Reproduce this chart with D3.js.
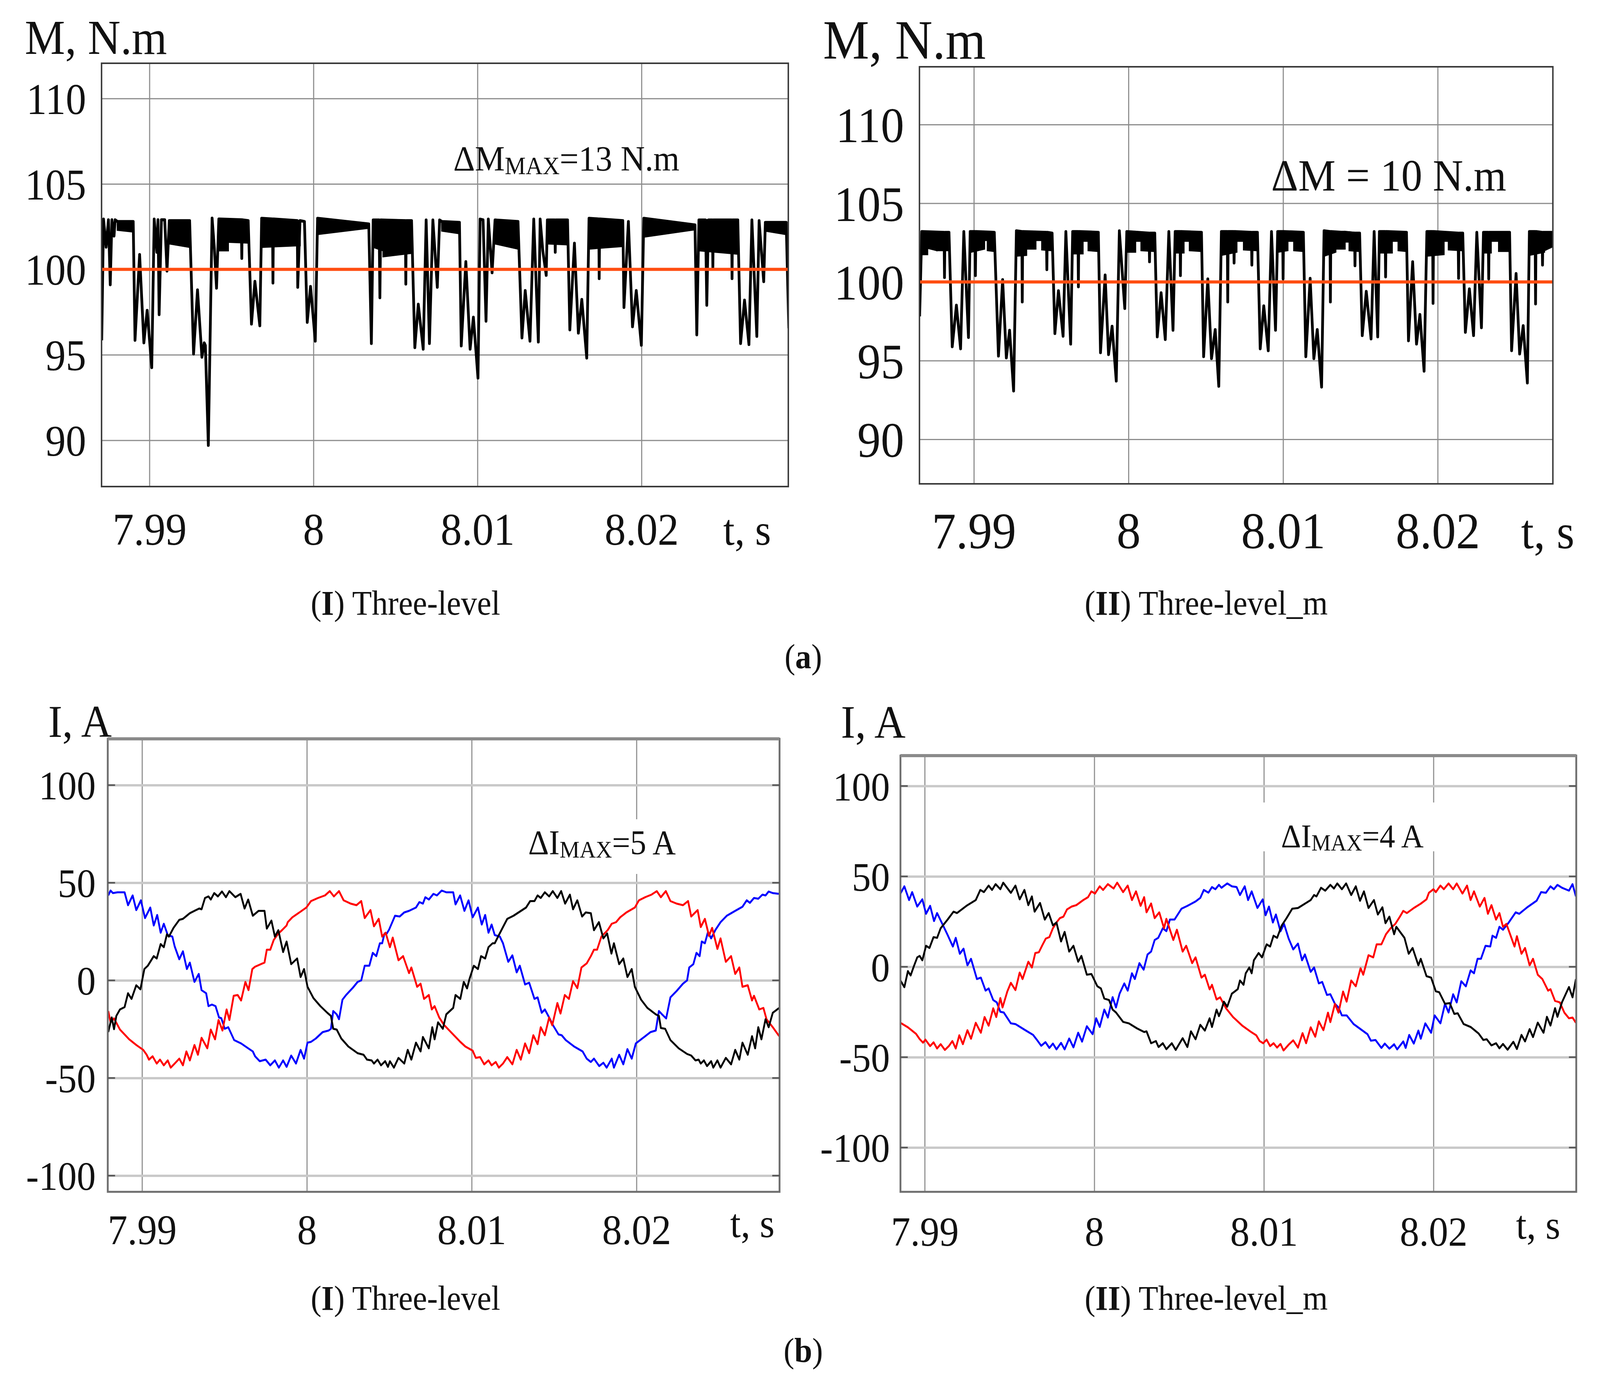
<!DOCTYPE html>
<html>
<head>
<meta charset="utf-8">
<script src="https://cdn.jsdelivr.net/npm/d3@7/dist/d3.min.js"></script>
<style>
  html, body { margin: 0; padding: 0; background: #fff; overflow: hidden; }
  svg { display: block; }
  text { font-family: "Liberation Serif", "Times New Roman", serif; }
</style>
</head>
<body>
<script>
// ---- data ----
const timeTicks = [7.99, 8, 8.01, 8.02];
const timeTickLabels = ["7.99", "8", "8.01", "8.02"];
const torqueTicks = [90, 95, 100, 105, 110];
const torqueTickLabels = ["90", "95", "100", "105", "110"];
const currentTicks = [-100, -50, 0, 50, 100];
const currentTickLabels = ["-100", "-50", "0", "50", "100"];
const torqueRef = 100;

// torque, three-level: [t, M] vertices of the trace
const mLineI = [[7.98709,95.85],[7.98720,102.94],[7.98736,101.3],[7.98750,102.9],[7.98761,99.1],[7.98771,102.9],[7.98784,101.95],[7.98791,102.9],[7.98805,102.8],[7.98901,102.8],[7.98912,95.85],[7.98940,100.87],[7.98966,95.7],[7.98986,97.6],[7.99014,94.25],[7.99029,102.94],[7.99045,101.0],[7.99052,102.9],[7.99059,97.35],[7.99073,102.9],[7.99093,102.9],[7.99107,99.9],[7.99121,102.85],[7.99245,102.85],[7.99269,95.05],[7.99293,98.8],[7.99320,94.86],[7.99334,95.7],[7.99341,95.55],[7.99359,89.7],[7.99382,103.0],[7.99396,101.2],[7.99409,98.9],[7.99423,102.95],[7.99560,102.9],[7.99563,100.64],[7.99566,102.9],[7.99602,102.85],[7.99622,96.8],[7.99643,99.3],[7.99673,96.7],[7.99684,102.99],[7.99750,102.95],[7.99753,99.2],[7.99756,102.95],[7.99901,102.85],[7.99904,98.95],[7.99918,102.85],[7.99945,102.8],[7.99962,96.9],[7.99982,99.0],[8.00011,95.8],[8.00025,102.99],[8.00337,102.66],[8.00353,95.66],[8.00364,102.89],[8.00400,102.89],[8.00405,98.34],[8.00410,102.89],[8.00560,102.85],[8.00563,99.14],[8.00566,102.85],[8.00598,102.85],[8.00618,95.42],[8.00639,97.96],[8.00669,95.33],[8.00687,102.89],[8.00707,95.66],[8.00728,102.89],[8.00755,98.95],[8.00769,102.89],[8.00783,102.8],[8.00890,102.75],[8.00901,95.52],[8.00929,100.45],[8.00955,95.33],[8.00975,97.2],[8.01003,93.64],[8.01016,102.94],[8.01034,102.9],[8.01052,96.97],[8.01066,102.94],[8.01089,99.8],[8.01107,102.89],[8.01247,102.8],[8.01271,95.99],[8.01291,98.76],[8.01320,95.8],[8.01343,102.94],[8.01371,95.75],[8.01382,102.94],[8.01398,101.1],[8.01419,99.65],[8.01426,102.89],[8.01471,102.89],[8.01474,101.0],[8.01477,102.89],[8.01549,102.89],[8.01563,96.46],[8.01591,101.53],[8.01615,96.27],[8.01636,98.24],[8.01666,94.81],[8.01680,102.99],[8.01739,102.95],[8.01742,99.46],[8.01745,102.95],[8.01886,102.85],[8.01893,97.77],[8.01920,102.8],[8.01945,96.64],[8.01968,98.76],[8.01999,95.56],[8.02014,102.99],[8.02326,102.6],[8.02337,96.17],[8.02350,102.89],[8.02390,102.89],[8.02398,97.9],[8.02408,102.89],[8.02432,102.89],[8.02435,100.1],[8.02438,102.89],[8.02549,102.89],[8.02552,99.46],[8.02555,102.89],[8.02587,102.89],[8.02604,95.66],[8.02628,98.2],[8.02655,95.6],[8.02673,102.89],[8.02703,96.08],[8.02717,102.85],[8.02745,99.28],[8.02755,102.75],[8.02882,102.75],[8.02898,96.55]];
// dense switching band: [t0, t1, top0, top1, bottom0, bottom1]
const mBandI = [[7.98805,7.98901,102.8,102.8,102.3,102.2],[7.99121,7.99245,102.85,102.85,101.5,101.3],[7.99423,7.99480,102.95,102.9,101.1,101.1],[7.99480,7.99602,102.9,102.85,101.6,101.55],[7.99684,7.99918,102.95,102.85,101.3,101.4],[8.00025,8.00337,102.99,102.66,102.05,102.42],[8.00364,8.00425,102.89,102.89,101.3,101.1],[8.00425,8.00598,102.89,102.85,100.75,100.95],[8.00783,8.00890,102.8,102.75,102.25,102.1],[8.01107,8.01247,102.89,102.8,101.5,101.2],[8.01426,8.01549,102.89,102.89,101.5,101.45],[8.01680,8.01886,102.99,102.85,101.2,101.35],[8.02014,8.02326,102.99,102.6,101.9,102.33],[8.02350,8.02587,102.89,102.89,101.1,100.9],[8.02755,8.02882,102.75,102.75,102.25,102.05]];

// torque, three-level_m
const mLineII = [[7.98649,97.81],[7.98663,103.2],[7.98807,103.15],[7.98810,100.28],[7.98813,103.15],[7.98839,103.15],[7.98860,95.88],[7.98887,98.52],[7.98914,95.75],[7.98935,103.2],[7.98965,96.47],[7.98976,103.2],[7.99007,103.2],[7.99010,100.4],[7.99013,103.2],[7.99132,103.15],[7.99159,95.29],[7.99186,100.15],[7.99210,95.17],[7.99231,96.93],[7.99257,93.07],[7.99275,103.25],[7.99310,103.2],[7.99313,98.73],[7.99316,103.2],[7.99469,103.15],[7.99472,100.78],[7.99475,103.15],[7.99506,103.1],[7.99524,96.72],[7.99547,99.44],[7.99577,96.55],[7.99595,103.2],[7.99626,96.05],[7.99639,103.2],[7.99673,103.2],[7.99676,99.69],[7.99679,103.2],[7.99805,103.15],[7.99819,95.5],[7.99849,100.44],[7.99871,95.38],[7.99894,97.18],[7.99921,93.70],[7.99941,103.25],[7.99976,98.31],[7.99989,103.2],[8.00133,103.1],[8.00136,101.28],[8.00139,103.1],[8.00170,103.1],[8.00186,96.51],[8.00211,99.31],[8.00238,96.34],[8.00261,103.2],[8.00288,96.93],[8.00302,103.2],[8.00333,103.2],[8.00336,100.4],[8.00339,103.2],[8.00472,103.15],[8.00486,95.25],[8.00513,100.19],[8.00537,95.13],[8.00561,96.97],[8.00584,93.37],[8.00601,103.2],[8.00639,103.2],[8.00642,98.73],[8.00645,103.2],[8.00680,103.2],[8.00683,101.2],[8.00686,103.2],[8.00795,103.15],[8.00798,101.07],[8.00801,103.15],[8.00834,103.15],[8.00852,95.75],[8.00875,98.48],[8.00904,95.63],[8.00925,103.2],[8.00951,96.93],[8.00965,103.2],[8.00997,103.2],[8.01000,100.19],[8.01003,103.2],[8.01131,103.15],[8.01147,95.25],[8.01175,100.23],[8.01199,95.13],[8.01221,96.97],[8.01249,93.32],[8.01265,103.25],[8.01303,103.2],[8.01306,98.73],[8.01309,103.2],[8.01462,103.1],[8.01465,101.03],[8.01468,103.1],[8.01495,103.1],[8.01512,96.59],[8.01538,99.4],[8.01569,96.38],[8.01589,103.2],[8.01612,96.51],[8.01623,103.2],[8.01660,103.2],[8.01663,100.32],[8.01666,103.2],[8.01798,103.15],[8.01811,96.26],[8.01838,101.28],[8.01863,96.05],[8.01885,97.93],[8.01912,94.33],[8.01930,103.2],[8.01967,103.2],[8.01970,98.64],[8.01973,103.2],[8.02132,103.1],[8.02135,100.23],[8.02138,103.1],[8.02162,103.1],[8.02179,96.8],[8.02205,99.56],[8.02232,96.59],[8.02253,103.15],[8.02283,97.09],[8.02296,103.15],[8.02327,103.15],[8.02330,100.19],[8.02333,103.15],[8.02465,103.15],[8.02478,95.63],[8.02507,100.53],[8.02530,95.42],[8.02553,97.22],[8.02580,93.58],[8.02593,103.2],[8.02630,103.2],[8.02633,98.6],[8.02636,103.2],[8.02675,103.15],[8.02678,101.07],[8.02681,103.15],[8.02745,103.15],[8.02755,102.4]];
const mBandII = [[7.98663,7.98700,103.2,103.2,101.75,101.75],[7.98700,7.98760,103.2,103.17,102.15,102.0],[7.98760,7.98839,103.17,103.15,102.0,102.0],[7.98982,7.99068,103.2,103.2,101.9,102.1],[7.99068,7.99088,103.2,103.17,102.65,102.65],[7.99088,7.99132,103.17,103.15,102.0,101.95],[7.99275,7.99340,103.25,103.2,101.65,101.7],[7.99340,7.99400,103.2,103.2,102.1,102.1],[7.99400,7.99440,103.2,103.17,102.65,102.65],[7.99440,7.99506,103.17,103.1,102.05,102.0],[7.99639,7.99705,103.2,103.2,101.8,101.8],[7.99705,7.99740,103.2,103.17,102.6,102.6],[7.99740,7.99805,103.17,103.15,102.0,101.95],[7.99996,8.00045,103.2,103.2,101.9,101.9],[8.00045,8.00082,103.2,103.15,102.6,102.6],[8.00082,8.00170,103.15,103.1,102.0,101.95],[8.00302,8.00358,103.2,103.2,101.85,101.85],[8.00358,8.00395,103.2,103.17,102.6,102.6],[8.00395,8.00472,103.17,103.15,102.0,101.95],[8.00601,8.00700,103.2,103.2,101.7,101.9],[8.00700,8.00745,103.2,103.17,102.6,102.6],[8.00745,8.00834,103.17,103.15,102.05,102.0],[8.00965,8.01030,103.2,103.2,101.9,102.0],[8.01030,8.01070,103.2,103.17,102.6,102.6],[8.01070,8.01131,103.17,103.15,102.0,101.95],[8.01265,8.01340,103.25,103.2,101.65,101.9],[8.01340,8.01400,103.2,103.2,102.1,102.1],[8.01400,8.01428,103.2,103.17,102.55,102.55],[8.01428,8.01495,103.17,103.1,102.0,101.95],[8.01623,8.01705,103.2,103.2,101.85,101.85],[8.01705,8.01745,103.2,103.17,102.6,102.6],[8.01745,8.01798,103.17,103.15,102.0,101.95],[8.01930,8.02040,103.2,103.17,101.65,101.75],[8.02040,8.02070,103.17,103.15,102.6,102.6],[8.02070,8.02162,103.15,103.1,102.05,102.0],[8.02296,8.02345,103.15,103.15,101.85,101.85],[8.02345,8.02395,103.15,103.15,102.6,102.6],[8.02395,8.02465,103.15,103.15,101.95,101.95],[8.02593,8.02690,103.2,103.17,101.7,101.9],[8.02690,8.02755,103.17,103.15,102.0,102.3]];

// phase currents, three-level: [t, I]
const iBlackI = [[7.98795,-26.5],[7.98816,-19.0],[7.98830,-25.0],[7.98844,-18.2],[7.98866,-14.9],[7.98894,-13.7],[7.98915,-6.6],[7.98936,-9.5],[7.98965,-2.5],[7.98990,-4.6],[7.99014,5.8],[7.99035,7.5],[7.99071,12.4],[7.99089,11.2],[7.99113,18.6],[7.99132,17.0],[7.99151,23.6],[7.99163,22.4],[7.99191,26.9],[7.99226,31.0],[7.99248,31.5],[7.99290,34.4],[7.99318,35.6],[7.99347,36.8],[7.99361,36.4],[7.99382,42.2],[7.99403,43.0],[7.99417,41.4],[7.99438,44.7],[7.99460,43.0],[7.99485,45.5],[7.99509,42.6],[7.99530,45.7],[7.99566,42.6],[7.99598,44.3],[7.99622,36.8],[7.99644,41.4],[7.99672,33.1],[7.99707,35.6],[7.99743,35.6],[7.99757,26.5],[7.99785,30.6],[7.99806,22.4],[7.99827,25.7],[7.99856,14.5],[7.99877,19.9],[7.99905,8.3],[7.99941,11.2],[7.99962,1.7],[7.99983,5.8],[8.00004,-3.3],[8.00040,-9.1],[8.00082,-13.2],[8.00124,-16.6],[8.00146,-18.2],[8.00160,-24.8],[8.00181,-25.2],[8.00209,-29.8],[8.00252,-33.9],[8.00308,-37.3],[8.00344,-38.1],[8.00365,-40.6],[8.00393,-41.0],[8.00407,-42.6],[8.00429,-40.6],[8.00450,-43.5],[8.00475,-41.4],[8.00492,-44.3],[8.00504,-41.4],[8.00528,-44.7],[8.00556,-39.7],[8.00591,-42.6],[8.00612,-35.6],[8.00634,-40.6],[8.00662,-31.9],[8.00690,-36.4],[8.00704,-29.0],[8.00740,-34.8],[8.00761,-24.0],[8.00775,-30.2],[8.00796,-21.5],[8.00825,-24.8],[8.00846,-17.4],[8.00888,-14.1],[8.00902,-7.5],[8.00931,-9.5],[8.00952,-0.8],[8.00972,-4.1],[8.00987,0.8],[8.01013,7.5],[8.01038,5.8],[8.01057,12.4],[8.01082,11.2],[8.01102,17.0],[8.01127,19.0],[8.01140,19.0],[8.01165,23.2],[8.01190,27.3],[8.01216,31.5],[8.01254,33.1],[8.01292,35.2],[8.01330,37.3],[8.01355,40.6],[8.01381,40.6],[8.01400,43.5],[8.01419,42.2],[8.01444,45.1],[8.01470,43.0],[8.01492,45.7],[8.01520,42.2],[8.01543,45.7],[8.01567,39.3],[8.01596,43.9],[8.01615,36.4],[8.01641,41.0],[8.01670,32.7],[8.01692,34.8],[8.01723,34.4],[8.01742,25.7],[8.01772,29.8],[8.01799,21.5],[8.01822,24.0],[8.01848,13.7],[8.01863,19.0],[8.01895,8.3],[8.01920,11.2],[8.01945,1.7],[8.01971,5.8],[8.01990,-3.3],[8.02028,-9.9],[8.02066,-14.1],[8.02117,-17.4],[8.02136,-18.2],[8.02148,-24.4],[8.02174,-24.8],[8.02206,-30.6],[8.02256,-34.8],[8.02307,-37.7],[8.02332,-38.5],[8.02358,-41.0],[8.02377,-40.6],[8.02390,-42.6],[8.02409,-41.0],[8.02428,-43.9],[8.02453,-41.4],[8.02466,-44.7],[8.02491,-41.0],[8.02510,-44.7],[8.02542,-39.7],[8.02574,-43.0],[8.02599,-35.6],[8.02624,-40.6],[8.02643,-31.9],[8.02675,-38.1],[8.02701,-28.6],[8.02720,-34.8],[8.02739,-24.0],[8.02758,-30.2],[8.02783,-19.9],[8.02802,-24.0],[8.02827,-16.6],[8.02866,-14.1]];
const iRedI = [[7.98795,-15.7],[7.98809,-21.5],[7.98830,-19.5],[7.98866,-25.2],[7.98922,-30.2],[7.98965,-33.1],[7.99007,-35.6],[7.99028,-38.1],[7.99042,-40.6],[7.99064,-38.9],[7.99089,-42.6],[7.99109,-40.6],[7.99132,-43.5],[7.99156,-41.0],[7.99174,-44.7],[7.99198,-42.6],[7.99226,-40.1],[7.99248,-43.5],[7.99269,-36.4],[7.99290,-41.0],[7.99318,-33.1],[7.99339,-38.1],[7.99361,-29.4],[7.99396,-34.8],[7.99417,-25.2],[7.99443,-30.2],[7.99464,-20.3],[7.99488,-25.7],[7.99513,-14.9],[7.99530,-20.3],[7.99556,-7.9],[7.99580,-7.5],[7.99601,-10.3],[7.99627,-0.8],[7.99646,-5.0],[7.99669,5.8],[7.99686,7.0],[7.99721,8.3],[7.99743,9.1],[7.99757,15.7],[7.99778,15.7],[7.99799,20.7],[7.99827,24.0],[7.99849,25.7],[7.99877,28.1],[7.99884,29.8],[7.99912,32.3],[7.99955,34.8],[7.99997,37.3],[8.00025,40.6],[8.00068,42.2],[8.00110,43.5],[8.00139,45.7],[8.00164,43.0],[8.00195,45.7],[8.00223,41.0],[8.00266,39.3],[8.00301,38.5],[8.00330,40.6],[8.00351,31.9],[8.00386,36.0],[8.00407,27.7],[8.00436,31.5],[8.00457,22.4],[8.00478,24.4],[8.00504,17.0],[8.00521,21.9],[8.00556,10.3],[8.00584,12.4],[8.00620,3.7],[8.00634,6.6],[8.00669,-3.3],[8.00690,-1.7],[8.00711,-9.5],[8.00740,-7.5],[8.00758,-14.9],[8.00775,-13.2],[8.00803,-19.0],[8.00832,-22.8],[8.00874,-26.5],[8.00931,-31.5],[8.00962,-33.9],[8.01006,-36.0],[8.01025,-39.7],[8.01051,-39.3],[8.01076,-43.0],[8.01102,-41.0],[8.01121,-43.5],[8.01146,-41.8],[8.01165,-44.7],[8.01190,-42.6],[8.01216,-39.3],[8.01247,-43.0],[8.01273,-35.6],[8.01298,-40.6],[8.01324,-32.3],[8.01349,-37.3],[8.01374,-28.1],[8.01400,-32.7],[8.01419,-24.0],[8.01444,-28.1],[8.01470,-19.0],[8.01489,-23.0],[8.01520,-11.6],[8.01539,-17.0],[8.01565,-7.5],[8.01590,-9.5],[8.01615,-0.4],[8.01641,-4.0],[8.01666,6.6],[8.01698,8.7],[8.01723,12.4],[8.01742,15.7],[8.01761,15.7],[8.01787,22.4],[8.01825,25.7],[8.01850,29.0],[8.01876,29.8],[8.01901,32.3],[8.01939,34.8],[8.01990,37.3],[8.02015,41.0],[8.02053,42.6],[8.02091,43.9],[8.02123,45.7],[8.02148,42.6],[8.02178,45.7],[8.02206,40.6],[8.02244,39.3],[8.02282,38.5],[8.02313,40.6],[8.02332,32.7],[8.02371,36.0],[8.02390,27.3],[8.02415,31.5],[8.02440,22.8],[8.02459,26.9],[8.02491,16.1],[8.02510,21.5],[8.02542,9.5],[8.02574,12.4],[8.02599,3.3],[8.02624,6.6],[8.02643,-3.3],[8.02675,-2.5],[8.02701,-10.3],[8.02713,-7.9],[8.02745,-14.9],[8.02770,-14.1],[8.02789,-19.9],[8.02827,-24.0],[8.02866,-28.6]];
const iBlueI = [[7.98795,43.5],[7.98809,46.0],[7.98823,44.7],[7.98851,45.1],[7.98894,45.1],[7.98915,38.5],[7.98943,43.5],[7.98965,36.0],[7.98993,41.0],[7.99018,31.9],[7.99050,37.3],[7.99071,28.1],[7.99092,33.5],[7.99113,24.4],[7.99132,29.0],[7.99156,23.2],[7.99184,22.4],[7.99198,17.4],[7.99226,10.8],[7.99248,14.9],[7.99272,5.8],[7.99290,9.1],[7.99318,-0.8],[7.99344,3.3],[7.99361,-5.0],[7.99389,-6.6],[7.99403,-13.2],[7.99424,-12.4],[7.99446,-13.2],[7.99467,-19.0],[7.99481,-19.4],[7.99502,-24.8],[7.99523,-24.0],[7.99559,-30.6],[7.99601,-32.3],[7.99644,-34.8],[7.99672,-36.4],[7.99686,-38.9],[7.99714,-41.4],[7.99750,-40.6],[7.99778,-43.5],[7.99806,-41.0],[7.99830,-44.7],[7.99856,-41.0],[7.99877,-44.3],[7.99905,-38.5],[7.99934,-42.6],[7.99962,-35.6],[7.99983,-40.1],[8.00004,-31.9],[8.00025,-31.5],[8.00054,-29.8],[8.00096,-26.5],[8.00132,-25.7],[8.00146,-24.8],[8.00160,-15.7],[8.00181,-17.4],[8.00195,-19.9],[8.00216,-9.9],[8.00238,-7.5],[8.00280,-3.7],[8.00308,-0.8],[8.00330,0.0],[8.00351,7.5],[8.00379,7.5],[8.00400,14.1],[8.00421,12.4],[8.00443,19.0],[8.00457,19.0],[8.00471,24.0],[8.00485,24.0],[8.00499,26.0],[8.00535,33.1],[8.00563,32.7],[8.00591,34.8],[8.00620,35.6],[8.00662,37.3],[8.00683,40.1],[8.00704,39.3],[8.00719,42.6],[8.00740,41.4],[8.00768,44.3],[8.00789,43.5],[8.00818,46.0],[8.00846,45.1],[8.00888,45.1],[8.00902,38.9],[8.00930,43.5],[8.00956,35.6],[8.00981,41.0],[8.01006,32.3],[8.01038,37.3],[8.01061,28.6],[8.01082,33.5],[8.01102,24.4],[8.01121,28.6],[8.01140,23.2],[8.01171,22.4],[8.01190,19.0],[8.01222,9.5],[8.01247,12.8],[8.01273,4.1],[8.01292,7.5],[8.01324,-2.1],[8.01349,-1.2],[8.01381,-9.5],[8.01400,-8.7],[8.01425,-16.6],[8.01444,-14.9],[8.01470,-19.0],[8.01495,-23.2],[8.01527,-27.7],[8.01546,-28.1],[8.01571,-30.6],[8.01622,-33.9],[8.01673,-36.4],[8.01698,-40.1],[8.01723,-41.8],[8.01742,-40.1],[8.01774,-43.9],[8.01799,-42.2],[8.01819,-44.7],[8.01850,-40.1],[8.01863,-44.7],[8.01895,-38.1],[8.01920,-43.0],[8.01945,-35.2],[8.01971,-40.1],[8.01996,-32.3],[8.02022,-30.6],[8.02053,-28.6],[8.02085,-26.5],[8.02117,-25.7],[8.02136,-15.7],[8.02155,-17.4],[8.02180,-19.5],[8.02206,-8.7],[8.02244,-5.4],[8.02282,-1.7],[8.02307,0.0],[8.02320,6.6],[8.02345,8.3],[8.02364,14.1],[8.02383,12.4],[8.02396,19.9],[8.02415,19.0],[8.02434,24.8],[8.02453,21.5],[8.02478,25.7],[8.02510,29.8],[8.02548,33.1],[8.02599,35.6],[8.02643,37.7],[8.02669,41.0],[8.02688,39.7],[8.02713,42.2],[8.02739,41.8],[8.02764,43.9],[8.02783,43.5],[8.02802,45.5],[8.02827,44.7],[8.02866,44.3]];

// phase currents, three-level_m
const iBlackII = [[7.98857,-7.6],[7.98880,-11.3],[7.98901,-2.4],[7.98917,-4.8],[7.98935,0.0],[7.98956,5.2],[7.98970,6.0],[7.98986,3.6],[7.99008,11.6],[7.99028,10.4],[7.99052,16.4],[7.99073,16.0],[7.99094,21.3],[7.99135,26.1],[7.99170,30.5],[7.99190,29.7],[7.99246,33.7],[7.99301,36.9],[7.99328,42.5],[7.99349,41.3],[7.99377,44.9],[7.99397,42.5],[7.99418,45.7],[7.99446,42.9],[7.99463,46.5],[7.99508,40.9],[7.99535,44.9],[7.99560,37.3],[7.99588,42.5],[7.99611,34.1],[7.99632,38.9],[7.99648,30.5],[7.99680,35.3],[7.99708,26.1],[7.99731,29.7],[7.99756,22.9],[7.99777,24.5],[7.99804,14.0],[7.99825,19.3],[7.99852,8.4],[7.99877,11.6],[7.99905,2.8],[7.99924,6.0],[7.99956,-4.4],[7.99983,-4.0],[8.00018,-10.8],[8.00039,-12.0],[8.00059,-17.6],[8.00087,-18.4],[8.00108,-23.7],[8.00128,-25.3],[8.00170,-30.5],[8.00204,-31.3],[8.00252,-34.1],[8.00294,-36.1],[8.00308,-35.7],[8.00335,-42.3],[8.00363,-41.1],[8.00379,-44.4],[8.00404,-42.3],[8.00425,-45.6],[8.00457,-42.3],[8.00480,-46.0],[8.00521,-39.5],[8.00549,-44.4],[8.00570,-35.7],[8.00597,-40.1],[8.00625,-32.1],[8.00652,-35.3],[8.00680,-28.5],[8.00694,-33.3],[8.00721,-23.7],[8.00735,-27.3],[8.00750,-23.7],[8.00764,-19.3],[8.00784,-22.1],[8.00811,-14.9],[8.00846,-12.4],[8.00859,-7.6],[8.00880,-10.0],[8.00893,-3.6],[8.00914,-0.4],[8.00928,-3.6],[8.00941,3.6],[8.00969,7.6],[8.00989,5.2],[8.01016,12.4],[8.01037,11.2],[8.01057,17.2],[8.01078,16.0],[8.01105,22.8],[8.01133,26.8],[8.01167,32.1],[8.01201,32.5],[8.01242,34.9],[8.01276,36.9],[8.01296,39.7],[8.01310,38.9],[8.01337,43.7],[8.01362,42.1],[8.01392,45.3],[8.01413,43.3],[8.01433,46.1],[8.01460,42.9],[8.01485,46.1],[8.01515,39.7],[8.01542,44.5],[8.01567,36.5],[8.01590,41.7],[8.01617,32.5],[8.01649,36.9],[8.01672,28.9],[8.01699,32.9],[8.01717,24.1],[8.01740,27.7],[8.01768,18.0],[8.01781,22.1],[8.01829,16.0],[8.01854,7.2],[8.01877,10.4],[8.01911,0.8],[8.01925,4.4],[8.01959,-5.2],[8.01986,-6.0],[8.02014,-13.6],[8.02034,-14.1],[8.02068,-20.5],[8.02096,-20.1],[8.02123,-26.1],[8.02143,-25.7],[8.02178,-31.7],[8.02219,-33.3],[8.02266,-36.9],[8.02294,-40.5],[8.02314,-40.1],[8.02342,-43.5],[8.02369,-42.3],[8.02389,-45.1],[8.02410,-42.7],[8.02437,-45.9],[8.02471,-41.5],[8.02492,-45.5],[8.02519,-37.7],[8.02540,-41.3],[8.02567,-34.5],[8.02587,-38.9],[8.02615,-30.9],[8.02649,-36.5],[8.02669,-27.7],[8.02690,-32.5],[8.02717,-22.9],[8.02731,-27.7],[8.02758,-19.6],[8.02799,-11.2],[8.02820,-16.9],[8.02840,-6.8]];
const iRedII = [[7.98857,-31.0],[7.98901,-33.5],[7.98949,-37.1],[7.98970,-40.0],[7.98990,-42.0],[7.99004,-40.3],[7.99032,-43.9],[7.99052,-41.8],[7.99073,-45.2],[7.99094,-42.8],[7.99119,-46.0],[7.99142,-43.9],[7.99163,-41.1],[7.99183,-45.2],[7.99204,-37.9],[7.99225,-42.8],[7.99252,-35.1],[7.99273,-39.8],[7.99301,-31.0],[7.99331,-36.5],[7.99353,-27.8],[7.99377,-32.6],[7.99404,-23.0],[7.99422,-27.8],[7.99446,-17.3],[7.99459,-22.5],[7.99487,-13.7],[7.99508,-8.9],[7.99535,-12.9],[7.99560,-3.2],[7.99577,-6.8],[7.99611,2.8],[7.99632,-0.4],[7.99652,7.6],[7.99673,8.0],[7.99694,12.0],[7.99714,15.6],[7.99735,16.4],[7.99756,21.3],[7.99777,24.5],[7.99797,26.9],[7.99818,27.7],[7.99839,31.7],[7.99866,33.3],[7.99894,34.1],[7.99935,36.9],[7.99963,38.5],[7.99983,41.7],[8.00004,40.5],[8.00032,44.5],[8.00052,42.5],[8.00080,45.7],[8.00114,43.3],[8.00135,46.5],[8.00170,41.3],[8.00197,44.9],[8.00222,36.9],[8.00246,41.7],[8.00273,33.7],[8.00294,38.5],[8.00308,30.1],[8.00335,35.0],[8.00356,26.9],[8.00383,30.1],[8.00411,21.3],[8.00425,26.5],[8.00466,14.8],[8.00487,20.5],[8.00521,8.4],[8.00542,11.6],[8.00577,2.0],[8.00597,5.2],[8.00632,-6.0],[8.00652,-4.4],[8.00680,-12.5],[8.00694,-10.0],[8.00721,-18.1],[8.00742,-16.9],[8.00777,-23.0],[8.00818,-27.8],[8.00873,-32.6],[8.00928,-36.3],[8.00955,-37.9],[8.00975,-41.1],[8.00996,-42.3],[8.01016,-40.3],[8.01037,-43.9],[8.01057,-42.3],[8.01078,-44.7],[8.01098,-42.7],[8.01116,-46.3],[8.01146,-43.1],[8.01173,-40.7],[8.01201,-44.7],[8.01228,-36.7],[8.01249,-42.3],[8.01276,-33.5],[8.01303,-38.7],[8.01324,-30.2],[8.01351,-35.1],[8.01378,-25.4],[8.01392,-30.6],[8.01419,-20.5],[8.01440,-25.4],[8.01467,-13.7],[8.01488,-19.3],[8.01515,-7.6],[8.01542,-10.8],[8.01570,-0.8],[8.01586,-4.4],[8.01617,6.4],[8.01645,5.2],[8.01665,12.4],[8.01693,12.4],[8.01720,18.0],[8.01747,21.3],[8.01775,23.7],[8.01802,27.7],[8.01822,30.9],[8.01843,29.7],[8.01884,32.5],[8.01925,34.9],[8.01959,37.3],[8.01973,40.9],[8.02000,42.9],[8.02014,41.3],[8.02041,44.9],[8.02061,42.9],[8.02089,46.1],[8.02116,42.9],[8.02137,46.1],[8.02171,40.5],[8.02198,44.9],[8.02219,36.9],[8.02239,41.7],[8.02273,33.3],[8.02301,38.1],[8.02321,29.3],[8.02342,34.1],[8.02369,26.1],[8.02389,29.7],[8.02410,22.1],[8.02430,23.7],[8.02458,16.4],[8.02478,11.2],[8.02492,16.9],[8.02519,7.2],[8.02540,10.4],[8.02567,0.8],[8.02587,4.4],[8.02615,-4.4],[8.02642,-6.8],[8.02676,-13.2],[8.02690,-12.4],[8.02717,-18.9],[8.02745,-19.7],[8.02772,-25.4],[8.02799,-28.5],[8.02820,-28.1],[8.02840,-31.0]];
const iBlueII = [[7.98857,40.5],[7.98880,44.5],[7.98908,36.9],[7.98926,41.3],[7.98956,33.3],[7.98986,37.3],[7.99008,29.3],[7.99032,33.7],[7.99055,25.3],[7.99073,29.7],[7.99108,22.9],[7.99135,17.6],[7.99166,11.2],[7.99183,16.0],[7.99207,7.2],[7.99229,10.0],[7.99252,0.8],[7.99273,4.4],[7.99308,-6.8],[7.99331,-6.0],[7.99359,-13.2],[7.99377,-12.0],[7.99404,-18.4],[7.99425,-19.7],[7.99446,-24.9],[7.99466,-25.3],[7.99508,-31.3],[7.99535,-31.7],[7.99590,-34.9],[7.99639,-37.7],[7.99659,-40.1],[7.99687,-43.7],[7.99712,-41.7],[7.99735,-44.9],[7.99756,-42.5],[7.99777,-45.7],[7.99804,-42.1],[7.99825,-45.7],[7.99852,-39.7],[7.99877,-44.6],[7.99905,-36.5],[7.99928,-41.4],[7.99956,-32.9],[7.99990,-37.3],[8.00011,-28.5],[8.00032,-33.3],[8.00059,-23.7],[8.00080,-28.1],[8.00108,-16.8],[8.00128,-22.5],[8.00149,-14.9],[8.00177,-9.2],[8.00197,-13.2],[8.00222,-3.6],[8.00239,-6.8],[8.00266,2.0],[8.00291,-1.6],[8.00314,6.8],[8.00335,8.4],[8.00356,14.8],[8.00377,16.0],[8.00404,21.3],[8.00425,19.7],[8.00446,26.1],[8.00473,26.1],[8.00514,32.1],[8.00549,33.7],[8.00597,36.1],[8.00625,38.1],[8.00646,42.5],[8.00673,41.0],[8.00694,44.1],[8.00714,42.9],[8.00735,45.3],[8.00750,43.7],[8.00784,46.1],[8.00811,44.5],[8.00839,44.1],[8.00859,39.7],[8.00887,44.5],[8.00907,36.9],[8.00928,41.7],[8.00962,32.5],[8.00993,37.3],[8.01010,28.5],[8.01030,33.3],[8.01053,24.5],[8.01071,28.9],[8.01098,19.6],[8.01119,23.7],[8.01146,15.6],[8.01173,9.6],[8.01201,12.8],[8.01225,3.6],[8.01242,6.8],[8.01276,-2.8],[8.01296,-0.4],[8.01324,-9.2],[8.01344,-8.4],[8.01372,-15.6],[8.01392,-15.2],[8.01419,-20.5],[8.01440,-22.5],[8.01460,-26.9],[8.01488,-26.9],[8.01529,-31.7],[8.01570,-34.5],[8.01611,-37.3],[8.01631,-40.9],[8.01658,-40.5],[8.01693,-44.9],[8.01713,-42.5],[8.01740,-45.3],[8.01768,-42.9],[8.01786,-45.7],[8.01822,-41.3],[8.01836,-44.9],[8.01857,-37.7],[8.01884,-42.5],[8.01911,-35.3],[8.01925,-39.8],[8.01952,-31.3],[8.01986,-36.5],[8.02007,-26.9],[8.02041,-31.3],[8.02068,-20.5],[8.02089,-25.3],[8.02116,-15.2],[8.02137,-19.7],[8.02164,-8.0],[8.02191,-10.8],[8.02219,-2.0],[8.02239,-3.6],[8.02260,4.4],[8.02280,4.4],[8.02307,11.6],[8.02335,11.2],[8.02348,17.2],[8.02369,16.0],[8.02389,22.1],[8.02410,20.5],[8.02444,24.5],[8.02485,30.1],[8.02506,29.3],[8.02553,32.9],[8.02608,36.5],[8.02635,41.3],[8.02663,40.9],[8.02690,44.5],[8.02710,42.9],[8.02731,45.3],[8.02758,43.7],[8.02799,42.1],[8.02820,45.7],[8.02840,38.9]];

// ---- drawing ----
// the figure is laid out on a 4380 x 3539 board and scaled to fill the window
const W = 4380, H = 3539;
const svg = d3.select("body").append("svg")
  .attr("viewBox", `0 0 ${W} ${H}`)
  .attr("preserveAspectRatio", "none")
  .style("width", "100vw").style("height", "100vh");
svg.append("rect").attr("width", W).attr("height", H).attr("fill", "#fff");

const styles = {
  a: { hGrid: "#8c8c8c", hGridW: 3, vGrid: "#8c8c8c", vGridW: 3, frame: "#3a3a3a", frameW: 4 },
  b: { hGrid: "#c9c9c9", hGridW: 6, vGrid: "#8e8e8e", vGridW: 3, frame: "#6e6e6e", frameW: 5 }
};

const panels = [
  { id: "aI", st: "a", x0: 278, x1: 2158, y0: 162, y1: 1246, xDom: [7.98708, 8.02895], yDom: [87.29, 112.06],
    yTicks: torqueTicks, yLabels: torqueTickLabels, yRight: 236, yFont: 112, xBase: 1395, xFont: 116 },
  { id: "aII", st: "a", x0: 2517, x1: 4251, y0: 171, y1: 1239, xDom: [7.98648, 8.02745], yDom: [87.17, 113.67],
    yTicks: torqueTicks, yLabels: torqueTickLabels, yRight: 2475, yFont: 128, xBase: 1404, xFont: 132 },
  { id: "bI", st: "b", x0: 295, x1: 2134, y0: 1892, y1: 3052, xDom: [7.98792, 8.02868], yDom: [-108.3, 123.7],
    yTicks: currentTicks, yLabels: currentTickLabels, yRight: 262, yFont: 104, xBase: 3186, xFont: 108,
    box: [1425, 2098, 465, 140] },
  { id: "bII", st: "b", x0: 2465, x1: 4315, y0: 1935, y1: 3052, xDom: [7.98857, 8.02842], yDom: [-124.5, 116.8],
    yTicks: currentTicks, yLabels: currentTickLabels, yRight: 2436, yFont: 104, xBase: 3190, xFont: 106,
    box: [3440, 2055, 500, 125] }
];

const scales = {};

panels.forEach(p => {
  const st = styles[p.st];
  const x = d3.scaleLinear().domain(p.xDom).range([p.x0, p.x1]);
  const y = d3.scaleLinear().domain(p.yDom).range([p.y1, p.y0]);
  scales[p.id] = { x, y, p };
  const g = svg.append("g").attr("class", `panel-${p.id}`);

  svg.append("clipPath").attr("id", `clip-${p.id}`)
    .append("rect").attr("x", p.x0).attr("y", p.y0)
    .attr("width", p.x1 - p.x0).attr("height", p.y1 - p.y0);

  // vertical grid + time labels
  const xLab = new Map(timeTicks.map((t, i) => [t, timeTickLabels[i]]));
  const xa = g.append("g").attr("transform", `translate(0,${p.y1})`)
    .call(d3.axisBottom(x).tickValues(timeTicks).tickFormat(d => xLab.get(d)).tickSize(-(p.y1 - p.y0)));
  xa.select(".domain").remove();
  xa.attr("font-family", null).attr("font-size", null);
  xa.selectAll("line").attr("stroke", st.vGrid).attr("stroke-width", st.vGridW);
  xa.selectAll("text").attr("y", p.xBase - p.y1).attr("dy", null)
    .attr("font-size", p.xFont).attr("fill", "#111");

  // horizontal grid + value labels
  const yLab = new Map(p.yTicks.map((t, i) => [t, p.yLabels[i]]));
  const ya = g.append("g").attr("transform", `translate(${p.x0},0)`)
    .call(d3.axisLeft(y).tickValues(p.yTicks).tickFormat(d => yLab.get(d)).tickSize(-(p.x1 - p.x0)));
  ya.select(".domain").remove();
  ya.attr("font-family", null).attr("font-size", null);
  ya.selectAll("line").attr("stroke", st.hGrid).attr("stroke-width", st.hGridW);
  ya.selectAll("text").attr("x", p.yRight - p.x0).attr("dy", "0.35em")
    .attr("font-size", p.yFont).attr("fill", "#111");

  // white box under the annotation cuts the vertical grid lines
  if (p.box) {
    g.append("rect").attr("x", p.box[0]).attr("y", p.box[1])
      .attr("width", p.box[2]).attr("height", p.box[3]).attr("fill", "#fff");
  }
});

const line = (s) => d3.line().x(d => s.x(d[0])).y(d => s.y(d[1]));

function drawTorque(id, trace, bands) {
  const s = scales[id];
  const dg = svg.append("g").attr("clip-path", `url(#clip-${id})`);
  const area = d3.area().x(d => s.x(d[0])).y0(d => s.y(d[1])).y1(d => s.y(d[2]));
  dg.selectAll("path.band").data(bands).join("path").attr("class", "band")
    .attr("d", b => area([[b[0], b[4], b[2]], [b[1], b[5], b[3]]]))
    .attr("fill", "#000").attr("stroke", "#000").attr("stroke-width", 4);
  dg.append("path").datum(trace).attr("d", line(s))
    .attr("fill", "none").attr("stroke", "#000").attr("stroke-width", 7.5)
    .attr("stroke-linejoin", "round");
  dg.append("path").datum([[s.p.xDom[0], torqueRef], [s.p.xDom[1], torqueRef]])
    .attr("d", line(s)).attr("fill", "none").attr("stroke", "#ff4e12").attr("stroke-width", 8);
}

function drawCurrents(id, series) {
  const s = scales[id];
  const dg = svg.append("g").attr("clip-path", `url(#clip-${id})`);
  series.forEach(([data, color]) => {
    dg.append("path").datum(data).attr("d", line(s))
      .attr("fill", "none").attr("stroke", color).attr("stroke-width", 5)
      .attr("stroke-linejoin", "round");
  });
}

drawTorque("aI", mLineI, mBandI);
drawTorque("aII", mLineII, mBandII);
drawCurrents("bI", [[iBlueI, "#0000ff"], [iRedI, "#ff0000"], [iBlackI, "#000"]]);
drawCurrents("bII", [[iBlueII, "#0000ff"], [iRedII, "#ff0000"], [iBlackII, "#000"]]);

// frames and side ticks
panels.forEach(p => {
  const st = styles[p.st];
  const s = scales[p.id];
  svg.append("rect").attr("x", p.x0).attr("y", p.y0)
    .attr("width", p.x1 - p.x0).attr("height", p.y1 - p.y0)
    .attr("fill", "none").attr("stroke", st.frame).attr("stroke-width", st.frameW);
  if (p.st === "b") {
    svg.append("line").attr("x1", p.x0).attr("x2", p.x1).attr("y1", p.y0).attr("y2", p.y0)
      .attr("stroke", "#8a8a8a").attr("stroke-width", 8);
    const tk = svg.append("g");
    p.yTicks.forEach(v => {
      tk.append("line").attr("x1", p.x0).attr("x2", p.x0 + 20).attr("y1", s.y(v)).attr("y2", s.y(v))
        .attr("stroke", "#555").attr("stroke-width", 4);
      tk.append("line").attr("x1", p.x1 - 20).attr("x2", p.x1).attr("y1", s.y(v)).attr("y2", s.y(v))
        .attr("stroke", "#555").attr("stroke-width", 4);
    });
  }
});

// ---- texts ----
function label(x, y, size, str, anchor) {
  return svg.append("text").attr("x", x).attr("y", y).attr("font-size", size)
    .attr("text-anchor", anchor || "start").attr("fill", "#111").text(str);
}
label(68, 138, 124, "M, N.m");
label(2253, 150, 142, "M, N.m");
label(132, 1887, 116, "I, A");
label(2302, 1889, 118, "I, A");
label(1980, 1395, 112, "t, s");
label(4164, 1404, 125, "t, s");
label(1999, 3168, 104, "t, s");
label(4150, 3172, 104, "t, s");

function annot(x, y, size, head, sub, tail) {
  const t = svg.append("text").attr("x", x).attr("y", y).attr("font-size", size).attr("fill", "#111");
  t.append("tspan").text(head);
  if (sub) {
    t.append("tspan").attr("font-size", size * 0.7).attr("dy", size * 0.1).text(sub);
    t.append("tspan").attr("dy", -size * 0.1).text(tail);
  } else {
    t.append("tspan").text(tail);
  }
}
annot(1241, 437, 92, "\u0394M", "MAX", "=13 N.m");
annot(3480, 488, 115, "\u0394M = 10 N.m", null, "");
annot(1446, 2187, 88, "\u0394I", "MAX", "=5 A");
annot(3507, 2170, 85, "\u0394I", "MAX", "=4 A");

function caption(cx, y, size, bold, rest) {
  const t = svg.append("text").attr("x", cx).attr("y", y).attr("font-size", size)
    .attr("text-anchor", "middle").attr("fill", "#111");
  t.append("tspan").text("(");
  t.append("tspan").attr("font-weight", "bold").text(bold);
  t.append("tspan").text(")" + rest);
}
caption(1110, 1574, 88, "I", " Three-level");
caption(3302, 1574, 88, "II", " Three-level_m");
caption(2199, 1711, 88, "a", "");
caption(1110, 3354, 88, "I", " Three-level");
caption(3302, 3354, 88, "II", " Three-level_m");
caption(2199, 3488, 88, "b", "");
</script>
</body>
</html>
